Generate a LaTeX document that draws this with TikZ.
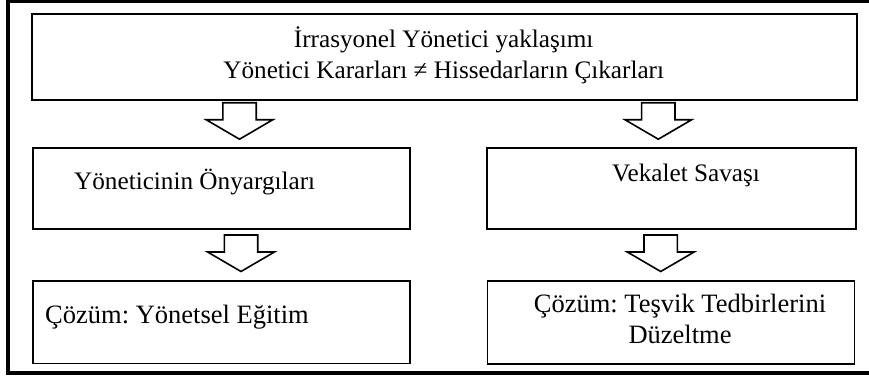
\documentclass[tikz,border=0pt]{standalone}
\usepackage{fontspec}
\setmainfont{Liberation Serif}
\usetikzlibrary{positioning}
\frenchspacing

\begin{document}
\begin{tikzpicture}[
    x=1pt, y=-1pt,
    box/.style={
        draw,
        rectangle,
        line width=1.8pt,
        anchor=north west,
        inner sep=0pt
    },
    txt/.style={
        inner sep=0pt,
        align=center,
        font=\fontsize{25.2}{31}\selectfont
    },
    bigtxt/.style={
        txt,
        font=\fontsize{26.5}{31}\selectfont
    },
    pics/downarrow/.style={
        code={\draw[line width=1.6pt, line join=miter]
            (-16.7,0) -- (16.7,0) -- (16.7,17) -- (33.4,17) -- (0,36.5)
            -- (-33.4,17) -- (-16.7,17) -- cycle;}
    }
]
\useasboundingbox (0,0) rectangle (869,378);
\clip (0,0) rectangle (869,378);

% Frame
\draw[line width=4pt] (8,0.7) rectangle (871,372.7);

% Top
\node[box, minimum width=825pt, minimum height=86.3pt] (main) at (30.7,12.7) {};
\node[txt, anchor=base] (maintxt) at (443.7,78.5)
    {İrrasyonel Yönetici yaklaşımı\\Yönetici Kararları ≠ Hissedarların Çıkarları};

\pic (arrA) at (239.5,102.7) {downarrow};
\pic (arrB) at (658.3,102.7) {downarrow};

% Level 2
\node[box, minimum width=377.3pt, minimum height=81.6pt] (bias) at (31.7,146.7) {};
\node[txt, anchor=base west] (biastxt) at (74,189.3) {Yöneticinin Önyargıları};

\node[box, minimum width=369pt, minimum height=81.6pt] (proxy) at (486,146.7) {};
\node[txt, anchor=base] (proxytxt) at (686,181.7) {Vekalet Savaşı};

\pic (arrC) at (241,235) {downarrow};
\pic (arrD) at (660.7,235) {downarrow};

% Level 3
\node[box, minimum width=377.3pt, minimum height=82.5pt] (training) at (31.7,280) {};
\node[bigtxt, anchor=base west] (trainingtxt) at (45,323.3) {Çözüm: Yönetsel Eğitim};

\node[box, minimum width=367pt, minimum height=83pt] (incentive) at (486.5,280.3) {};
\node[bigtxt, anchor=base] (incentivetxt) at (680,343.5)
    {Çözüm: Teşvik Tedbirlerini\\Düzeltme};

\end{tikzpicture}
\end{document}
